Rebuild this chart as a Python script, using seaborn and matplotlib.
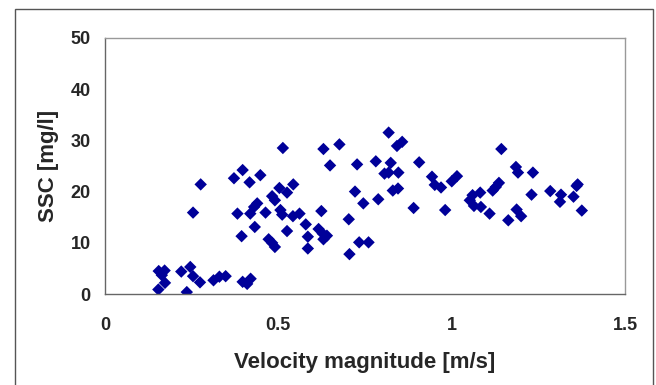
import numpy as np
import pandas as pd
import matplotlib
matplotlib.use("Agg")
import matplotlib.pyplot as plt
import seaborn as sns
from matplotlib.patches import Rectangle

# velocity magnitude [m/s] and SSC [mg/l]
velocity = [0.154, 0.155, 0.172, 0.164, 0.173, 0.22, 0.246, 0.254, 0.236, 0.274,
            0.313, 0.33, 0.348, 0.397, 0.41, 0.42, 0.254, 0.276,
            0.372, 0.397, 0.417, 0.448, 0.382, 0.394, 0.419, 0.432, 0.439, 0.43,
            0.463, 0.472, 0.482, 0.49, 0.482, 0.49, 0.503, 0.506, 0.511, 0.513,
            0.525, 0.543, 0.525, 0.542, 0.561, 0.579, 0.585, 0.585, 0.616, 0.628,
            0.63, 0.64, 0.624, 0.63, 0.649, 0.676, 0.703, 0.705, 0.721, 0.727,
            0.733, 0.745, 0.76, 0.781, 0.788, 0.806, 0.818, 0.824, 0.818, 0.83,
            0.845, 0.846, 0.842, 0.857, 0.89, 0.906, 0.943, 0.951, 0.969, 0.981,
            1.0, 1.015, 1.052, 1.06, 1.064, 1.082, 1.084, 1.109, 1.118, 1.127,
            1.136, 1.143, 1.163, 1.185, 1.191, 1.187, 1.2, 1.23, 1.234, 1.284,
            1.315, 1.312, 1.351, 1.36, 1.363, 1.375]
ssc = [0.9, 4.5, 4.6, 3.7, 2.2, 4.4, 5.3, 3.5, 0.4, 2.3,
       2.7, 3.4, 3.5, 2.4, 2.0, 3.0, 15.9, 21.4,
       22.6, 24.2, 21.8, 23.2, 15.7, 11.3, 15.7, 13.1, 17.7, 17.0,
       15.9, 10.7, 10.0, 9.2, 19.1, 18.3, 20.7, 16.4, 15.5, 28.5,
       19.8, 21.4, 12.3, 15.2, 15.7, 13.6, 11.2, 8.9, 12.7, 11.8,
       10.7, 11.4, 16.2, 28.3, 25.1, 29.2, 14.6, 7.8, 20.0, 25.3,
       10.1, 17.7, 10.1, 25.9, 18.5, 23.5, 31.5, 25.6, 23.7, 20.2,
       20.6, 23.7, 28.9, 29.7, 16.8, 25.7, 22.9, 21.3, 20.8, 16.4,
       22.0, 23.0, 18.3, 19.3, 17.2, 19.8, 17.0, 15.7, 20.2, 20.9,
       21.7, 28.3, 14.4, 24.8, 23.7, 16.5, 15.2, 19.4, 23.7, 20.1,
       19.4, 18.0, 19.0, 21.1, 21.4, 16.3]

df = pd.DataFrame({"velocity": velocity, "ssc": ssc})

sns.set_style("white")
plt.rcParams["font.family"] = ["Liberation Sans", "DejaVu Sans"]

fig = plt.figure(figsize=(6.56, 3.85), dpi=100)
ax = fig.add_axes([0.160, 0.236, 0.793, 0.666])

# outer chart frame
fig.patches.append(Rectangle((0.0229, -0.05), 0.972, 1.026, transform=fig.transFigure,
                             fill=False, edgecolor="#555555", linewidth=1.0))

sns.scatterplot(data=df, x="velocity", y="ssc", marker="D", s=40, color="#000099",
                edgecolor="none", ax=ax)

ax.set_xlim(0, 1.5)
ax.set_ylim(0, 50)
ax.set_xticks([0, 0.5, 1, 1.5])
ax.set_xticklabels(["0", "0.5", "1", "1.5"])
ax.set_yticks([0, 10, 20, 30, 40, 50])

for side in ["top", "right"]:
    ax.spines[side].set_color("#999999")
for side in ["left", "bottom"]:
    ax.spines[side].set_color("#666666")
for sp in ax.spines.values():
    sp.set_linewidth(1.0)

ax.tick_params(axis="both", direction="out", length=4.3, width=1, color="#666666",
               labelsize=13)
ax.tick_params(axis="y", pad=6)
ax.tick_params(axis="x", pad=12)
for lab in ax.get_xticklabels() + ax.get_yticklabels():
    lab.set_fontweight("bold")

ax.set_xlabel("Velocity magnitude [m/s]", fontsize=16, fontweight="bold", labelpad=13)
ax.set_ylabel("SSC [mg/l]", fontsize=16, fontweight="bold", labelpad=8)

fig.savefig("out.png", dpi=100)
